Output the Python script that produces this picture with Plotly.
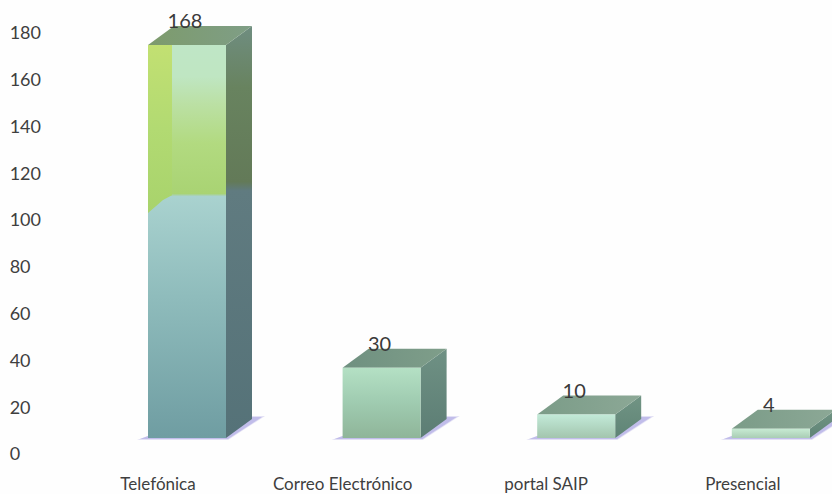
import plotly.graph_objects as go

categories = ["Telefónica", "Correo Electrónico", "portal SAIP", "Presencial"]
values = [168, 30, 10, 4]
y_ticks = [0, 20, 40, 60, 80, 100, 120, 140, 160, 180]

# layout constants
W, H = 832, 494
PX_Y = 421 / 180          # pixels per value unit
PX_X = 194.6              # pixels per category step
L, B = 60, 40
X0 = (L - 187) / PX_X
X1 = (W - 187) / PX_X
Y1 = (H - B) / PX_Y
BASE = 16 / PX_Y          # front base lifted above the axis zero
HALF = 39 / PX_X          # half front width
DX = 26 / PX_X            # depth offset
DY = 19 / PX_Y
label_offsets = [-29, -39, -30, -28]

styles = [
    dict(front=[[0, "#6f9da2"], [0.36, "#8fbcbc"], [0.615, "#a9d2cf"], [0.622, "#a9d373"], [0.75, "#b2da80"],
                [0.85, "#bbe0a4"], [0.92, "#bfe6c2"], [1, "#bfe6c6"]],
         side=[[0, "#557278"], [0.6, "#607b80"], [0.622, "#637a58"], [0.85, "#68835f"], [1, "#6f8d80"]],
         top=[[0, "#7d9b6c"], [1, "#7f9e86"]]),
    dict(front=[[0, "#8fb599"], [0.5, "#9fcbb0"], [1, "#b4e0c4"]],
         side=[[0, "#5c7d74"], [1, "#6f9184"]], top=[[0, "#6f9080"], [1, "#7f9e8a"]]),
    dict(front=[[0, "#a3c5ae"], [1, "#c2ead8"]],
         side=[[0, "#5f8476"], [1, "#719484"]], top=[[0, "#7b9c88"], [1, "#8ca896"]]),
    dict(front=[[0, "#a9cdb4"], [1, "#c8ebd4"]],
         side=[[0, "#5f8476"], [1, "#719484"]], top=[[0, "#7b9c88"], [1, "#8ca896"]]),
]

fig = go.Figure()


def poly(xs, ys, scale=None, color=None, opacity=1, gtype="vertical"):
    kw = dict(fillgradient=dict(type=gtype, colorscale=scale)) if scale else dict(fillcolor=color)
    fig.add_trace(go.Scatter(x=xs + xs[:1], y=ys + ys[:1], mode="lines", fill="toself",
                             line=dict(width=0), opacity=opacity, hoverinfo="skip",
                             showlegend=False, **kw))


for i, (v, st) in enumerate(zip(values, styles)):
    xl, xr = i - HALF, i + HALF
    yb, yt = BASE, BASE + v
    # floor shadow, two soft layers
    for grow, op in ((3, 0.35), (0, 0.7)):
        poly([xl - (8 + grow) / PX_X, xr + 2 / PX_X, xr + DX + (10 + grow) / PX_X, xr + DX - 2 / PX_X, xr, xl],
             [yb - (1 + grow / 3) / PX_Y, yb - (1 + grow / 3) / PX_Y, yb + (21 + grow / 3) / PX_Y,
              yb + (21 + grow / 3) / PX_Y, yb + 2 / PX_Y, yb + 2 / PX_Y],
             color="#b3aee6", opacity=op)
    # side face
    poly([xr, xr + DX, xr + DX, xr], [yb, yb + DY, yt + DY, yt], scale=st["side"])
    # top face
    poly([xl, xr, xr + DX, xl + DX], [yt, yt, yt + DY, yt + DY], scale=st["top"], gtype="horizontal")
    # front face
    poly([xl, xr, xr, xl], [yb, yb, yt, yt], scale=st["front"])
    if i == 0:
        # stronger green strip on the left of the tall bar, fading into the face
        sx = xl + 24 / PX_X
        poly([xl, xl + 8 / PX_X, xl + 15 / PX_X, sx, sx, xl],
             [yb + 0.5725 * v, yb + 0.59 * v, yb + 0.606 * v, yb + 0.618 * v, yt, yt],
             scale=[[0, "#a8d36c"], [0.5, "#b2da72"], [1, "#c2e072"]])

# value labels
fig.add_trace(go.Scatter(
    x=[i - 2 / PX_X for i in range(len(values))],
    y=[BASE + v + DY + 3 / PX_Y for v in values],
    text=[str(v) for v in values], mode="text", textposition="middle center",
    textfont=dict(family="Lato", size=20, color="#3a3a3a"),
    hoverinfo="skip", showlegend=False, cliponaxis=False))

fig.update_layout(
    width=W, height=H, autosize=False,
    margin=dict(l=L, r=0, t=0, b=B),
    paper_bgcolor="#fefefe", plot_bgcolor="rgba(0,0,0,0)",
    font=dict(family="Lato", size=18, color="#3f3f3f"),
    showlegend=False,
    xaxis=dict(range=[X0, X1], showgrid=False, zeroline=False, showline=False,
               tickmode="array",
               tickvals=[i + o / PX_X for i, o in enumerate(label_offsets)],
               ticktext=categories, ticklen=0, ticklabelstandoff=18,
               tickfont=dict(size=17), automargin=False, fixedrange=True),
    yaxis=dict(range=[0, Y1], showgrid=False, zeroline=False, showline=False,
               tickmode="array", tickvals=y_ticks,
               ticktext=[str(t) + "\u2007" * (3 - len(str(t))) for t in y_ticks],
               ticklen=0, ticklabelstandoff=18, automargin=False, fixedrange=True),
)

fig.write_html("out.html", config=dict(displayModeBar=False),
               post_script="document.body.style.margin='0';document.body.style.overflow='hidden';")
